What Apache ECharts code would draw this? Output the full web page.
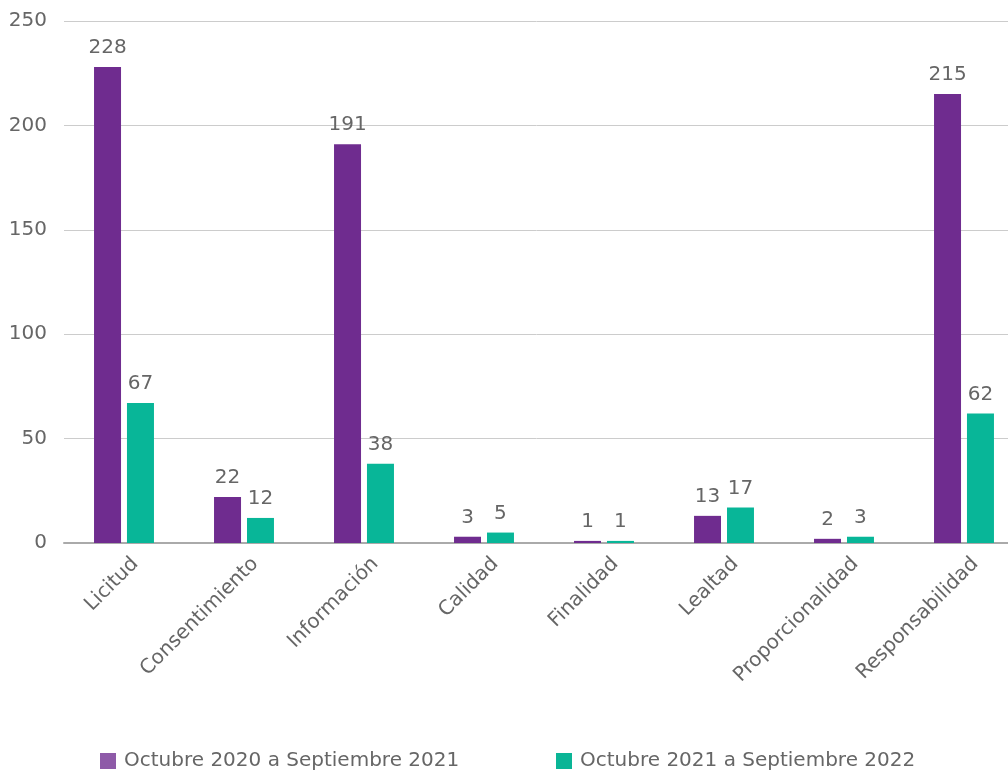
<!DOCTYPE html>
<html><head><meta charset="utf-8">
<script src="https://cdn.jsdelivr.net/npm/echarts@6/dist/echarts.min.js"></script>
<style>html,body{margin:0;padding:0;background:#fff;overflow:hidden}#c{width:1008px;height:770px}</style>
</head><body><div id="c"></div>
<script>
const categories = ["Licitud","Consentimiento","Información","Calidad","Finalidad","Lealtad","Proporcionalidad","Responsabilidad"];
const seriesNames = ["Octubre 2020 a Septiembre 2021","Octubre 2021 a Septiembre 2022"];
const values2021 = [228,22,191,3,1,13,2,215];
const values2022 = [67,12,38,5,1,17,3,62];
const yTicks = [0,50,100,150,200,250];

const FONT = "DejaVu Sans";
const TXT = '#666666';
const chart = echarts.init(document.getElementById('c'));
const lbl = {show:true, position:'top', distance:9, color:TXT, fontSize:20, fontFamily:FONT};
const legendBase = {top:751, padding:0, itemWidth:16, itemHeight:16, itemGap:0, icon:'rect',
  textStyle:{color:TXT, fontSize:20, fontFamily:FONT, padding:[0,0,0,3]}};
chart.setOption({
  animation:false,
  legend:[
    Object.assign({}, legendBase, {left:100, data:[{name:seriesNames[0], itemStyle:{color:'#8e5aa8'}}]}),
    Object.assign({}, legendBase, {left:556, data:[{name:seriesNames[1], itemStyle:{color:'#0ab596'}}]})
  ],
  grid:{left:64, top:21, width:960, height:522, containLabel:false, outerBoundsMode:'none'},
  xAxis:{
    type:'category', data:categories,
    axisLine:{lineStyle:{color:'#aaaaaa', width:2}},
    axisTick:{show:false},
    axisLabel:{rotate:45, color:TXT, fontSize:20, fontFamily:FONT, margin:15, interval:0, verticalAlign:'top', padding:[0,-6,0,0]}
  },
  yAxis:{
    type:'value', min:yTicks[0], max:yTicks[yTicks.length-1], interval:50,
    axisLine:{show:false}, axisTick:{show:false},
    splitLine:{lineStyle:{color:'#cccccc', width:1}},
    axisLabel:{color:TXT, fontSize:20, fontFamily:FONT, margin:17}
  },
  series:[
    {name:seriesNames[0], type:'bar', data:values2021, barWidth:27, barGap:'22%', itemStyle:{color:'#6f2c8f'}, label:lbl},
    {name:seriesNames[1], type:'bar', data:values2022, barWidth:27, barGap:'22%', itemStyle:{color:'#08b698'}, label:lbl}
  ]
});
</script></body></html>
